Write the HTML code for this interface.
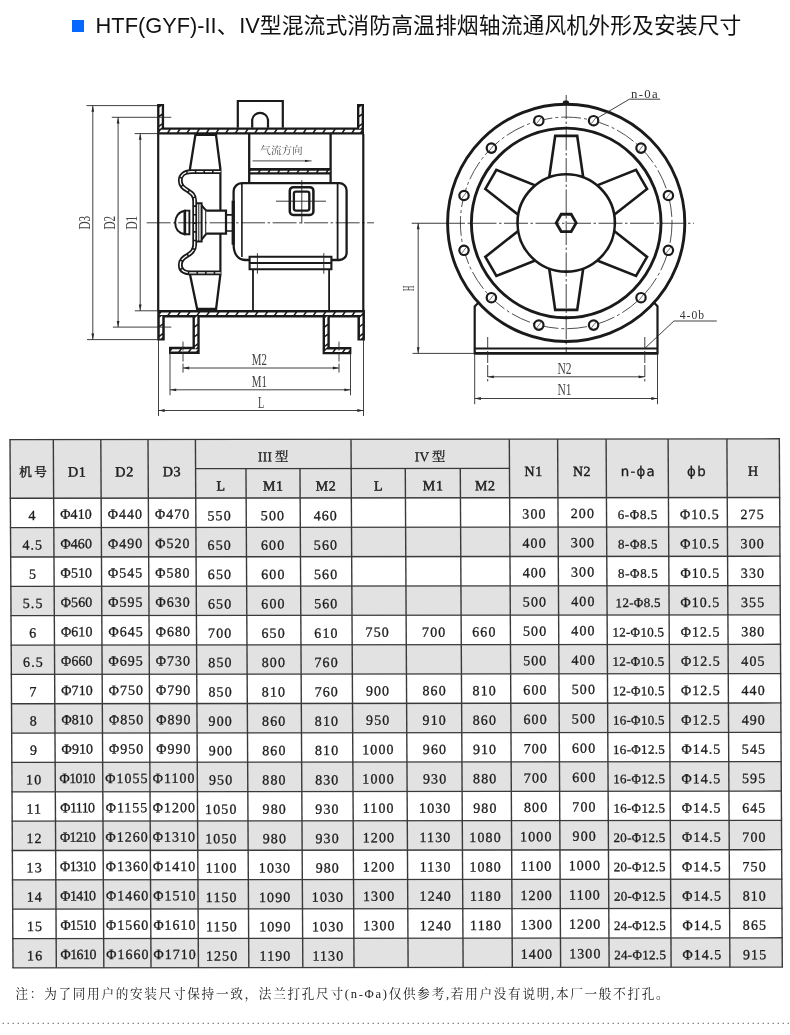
<!DOCTYPE html>
<html lang="zh"><head><meta charset="utf-8"><title>HTF(GYF)</title>
<style>
html,body{margin:0;padding:0;background:#fff;}
body{width:790px;height:1035px;position:relative;overflow:hidden;font-family:"Liberation Sans","Noto Sans CJK SC",sans-serif;}
.sq{position:absolute;left:72px;top:20px;width:12px;height:12px;background:#0568ff;}
.title{position:absolute;left:95.6px;top:11.5px;font-size:21.8px;line-height:28px;color:#111;white-space:nowrap;letter-spacing:0px;}
svg{position:absolute;left:0;top:0;}
.wrap{position:absolute;left:0;top:0;width:790px;height:1035px;will-change:transform;}
.note{position:absolute;left:15.5px;top:984px;font-size:12.6px;line-height:20px;color:#222;white-space:nowrap;letter-spacing:1.72px;font-family:"Liberation Serif","Noto Serif CJK SC",serif;}
.dots{display:none}
</style></head><body>
<div class="wrap">
<div class="sq"></div>
<div class="title">HTF(GYF)-II<span style="letter-spacing:0.7px">、</span>IV<span style="letter-spacing:0.1px">型混流式消防高温排烟轴流通风机外形及安装尺寸</span></div>
<svg width="790" height="1035" viewBox="0 0 790 1035">
<g stroke-linecap="butt"><path d="M160.6,104.1 V130.9 H360.5 V104.1" stroke="#1a1a1a" stroke-width="7.0" fill="none" stroke-linejoin="miter"/><line x1="160.6" y1="106.6" x2="160.6" y2="128.4" stroke="#fff" stroke-width="2.3" stroke-dasharray="7.8 1.9" stroke-dashoffset="0" transform="translate(160.6,0) skewY(-38) translate(-160.6,0)"/><line x1="160.2" y1="131" x2="361" y2="131" stroke="#fff" stroke-width="2.3" stroke-dasharray="7.8 1.9" stroke-dashoffset="0" transform="translate(0,131) skewX(-38) translate(0,-131)"/><line x1="360.5" y1="106.6" x2="360.5" y2="128.4" stroke="#fff" stroke-width="2.3" stroke-dasharray="7.8 1.9" stroke-dashoffset="0" transform="translate(360.5,0) skewY(-38) translate(-360.5,0)"/><path d="M161,340.6 V313.75 H361.2 V340.6" stroke="#1a1a1a" stroke-width="7.5" fill="none" stroke-linejoin="miter"/><line x1="161" y1="316.6" x2="161" y2="338.2" stroke="#fff" stroke-width="2.5" stroke-dasharray="7.8 1.9" stroke-dashoffset="0" transform="translate(161,0) skewY(-38) translate(-161,0)"/><line x1="160.4" y1="313.85" x2="361.8" y2="313.85" stroke="#fff" stroke-width="2.5" stroke-dasharray="7.8 1.9" stroke-dashoffset="0" transform="translate(0,313.85) skewX(-38) translate(0,-313.85)"/><line x1="361.2" y1="316.6" x2="361.2" y2="338.2" stroke="#fff" stroke-width="2.5" stroke-dasharray="7.8 1.9" stroke-dashoffset="0" transform="translate(361.2,0) skewY(-38) translate(-361.2,0)"/><line x1="158.20" y1="134.00" x2="158.20" y2="311.00" stroke="#1a1a1a" stroke-width="2.2" /><line x1="363.30" y1="134.00" x2="363.30" y2="311.00" stroke="#1a1a1a" stroke-width="2.2" /><path d="M237.8,127.8 V101 H282.8 V127.8" stroke="#1a1a1a" stroke-width="2.2" fill="none" /><path d="M252.2,127.8 V119.6 A8,8 0 0 1 268,119.6 V127.8" stroke="#1a1a1a" stroke-width="2.2" fill="none" /><line x1="249.20" y1="134.00" x2="249.20" y2="183.20" stroke="#1a1a1a" stroke-width="2.3" /><line x1="330.60" y1="134.00" x2="330.60" y2="183.20" stroke="#1a1a1a" stroke-width="2.3" /><path d="M249.2,171.2 H330.6" stroke="#1a1a1a" stroke-width="6.6" fill="none" stroke-linejoin="miter"/><line x1="250.5" y1="171.5" x2="330" y2="171.5" stroke="#fff" stroke-width="1.6" stroke-dasharray="7.8 1.9" stroke-dashoffset="0" transform="translate(0,171.5) skewX(-38) translate(0,-171.5)"/><path d="M189.8,170 L195.4,134.8 H216 L220.5,170" stroke="#1a1a1a" stroke-width="2.3" fill="none" /><path d="M189.8,273.4 L197.1,308.8 H216.1 L220.5,273.4" stroke="#1a1a1a" stroke-width="2.3" fill="none" /><line x1="220.40" y1="170.00" x2="220.40" y2="273.50" stroke="#1a1a1a" stroke-width="2.2" /><path d="M220.6,171.7 H191 C184,171.7 180.3,175.5 180.3,180.5 C180.3,191.5 194.7,189 194.7,201 V244.6 C194.7,256.6 180.3,254.2 180.3,265 C180.3,270 184,272.9 191,272.9 H220.6" stroke="#1a1a1a" stroke-width="4.8" fill="none" /><path d="M220.6,171.7 H191 C184,171.7 180.3,175.5 180.3,180.5 C180.3,191.5 194.7,189 194.7,201 V244.6 C194.7,256.6 180.3,254.2 180.3,265 C180.3,270 184,272.9 191,272.9 H220.6" stroke="#fff" stroke-width="1.3" fill="none" stroke-dasharray="7 1.6"/><path d="M196.5,203.2 H201.6 V241.6 H196.5" stroke="#1a1a1a" stroke-width="2" fill="none" /><path d="M201.6,205.5 L206.2,210.6 V234 L201.6,239.5" stroke="#1a1a1a" stroke-width="2" fill="none" /><line x1="198.80" y1="204.00" x2="198.80" y2="241.00" stroke="#1a1a1a" stroke-width="1" /><path d="M184.5,210.8 C178,212 175.2,217.5 175.2,222.6 C175.2,228 178,233 184.5,234.2 Z" stroke="#1a1a1a" stroke-width="2" fill="#fff" /><path d="M185.2,210.6 H189.4 V234.2 H185.2 Z" stroke="#1a1a1a" stroke-width="1.9" fill="#fff" /><path d="M206.2,210.6 H226 V233.6 H206.2" stroke="#1a1a1a" stroke-width="2.2" fill="#fff" /><path d="M226,214.8 H232 M226,231 H232" stroke="#1a1a1a" stroke-width="1.7" fill="none" /><path d="M233.6,191.4 A8.2,8.2 0 0 1 241.8,183.2 H339.4 A7.2,7.2 0 0 1 346.6,190.4 V252.8 A7.2,7.2 0 0 1 339.4,260 H331.4 M233.6,191.4 V244 C233.6,254 238,260 246,260 H249.6" stroke="#1a1a1a" stroke-width="2.3" fill="none" /><line x1="241.90" y1="183.40" x2="241.90" y2="257.00" stroke="#1a1a1a" stroke-width="1.6" /><line x1="337.60" y1="183.40" x2="337.60" y2="260.00" stroke="#1a1a1a" stroke-width="1.8" /><line x1="233.20" y1="200.70" x2="233.20" y2="244.70" stroke="#1a1a1a" stroke-width="3.2" /><path d="M249.6,256.8 H331.4 V269.3 H249.6 Z M249.6,263 H331.4" stroke="#1a1a1a" stroke-width="2.1" fill="none" /><line x1="323.80" y1="253.20" x2="323.80" y2="273.70" stroke="#222" stroke-width="0.9" /><line x1="257.40" y1="253.20" x2="257.40" y2="273.70" stroke="#222" stroke-width="0.9" /><line x1="253.00" y1="269.30" x2="253.00" y2="310.60" stroke="#1a1a1a" stroke-width="1.8" /><line x1="329.10" y1="269.30" x2="329.10" y2="310.60" stroke="#1a1a1a" stroke-width="1.8" /><rect x="289.8" y="187.2" width="23.6" height="27.8" rx="3.5" ry="3.5" fill="none" stroke="#1a1a1a" stroke-width="2.5"/><rect x="293.9" y="191.6" width="15.4" height="19" rx="2" ry="2" fill="none" stroke="#1a1a1a" stroke-width="2.3"/><line x1="276.00" y1="201.20" x2="326.00" y2="201.20" stroke="#222" stroke-width="0.9" /><line x1="301.80" y1="180.20" x2="301.80" y2="223.50" stroke="#222" stroke-width="0.9" /><line x1="146.60" y1="222.80" x2="374.00" y2="222.80" stroke="#111" stroke-width="0.8" stroke-dasharray="24 2.5 2.5 2.5"/><line x1="252.50" y1="160.90" x2="311.60" y2="160.90" stroke="#333" stroke-width="0.9" /><polygon points="310.00,160.90 305.00,162.10 305.00,159.70" fill="#222"/><text x="281.5" y="154.3" font-size="10.6" fill="#555" text-anchor="middle" font-family="'Liberation Serif','Noto Serif CJK SC',serif">气流方向</text><path d="M196.1,317 V350.3 H169" stroke="#1a1a1a" stroke-width="7.2" fill="none" stroke-linejoin="miter"/><line x1="196.1" y1="317" x2="196.1" y2="348" stroke="#fff" stroke-width="2.4" stroke-dasharray="7.8 1.9" stroke-dashoffset="0" transform="translate(196.1,0) skewY(-38) translate(-196.1,0)"/><line x1="171.4" y1="350.4" x2="197" y2="350.4" stroke="#fff" stroke-width="2.4" stroke-dasharray="7.8 1.9" stroke-dashoffset="0" transform="translate(0,350.4) skewX(-38) translate(0,-350.4)"/><path d="M326.2,317 V350.6 H351.4" stroke="#1a1a1a" stroke-width="7.2" fill="none" stroke-linejoin="miter"/><line x1="326.2" y1="317" x2="326.2" y2="348" stroke="#fff" stroke-width="2.4" stroke-dasharray="7.8 1.9" stroke-dashoffset="0" transform="translate(326.2,0) skewY(-38) translate(-326.2,0)"/><line x1="325.4" y1="350.7" x2="349" y2="350.7" stroke="#fff" stroke-width="2.4" stroke-dasharray="7.8 1.9" stroke-dashoffset="0" transform="translate(0,350.7) skewX(-38) translate(0,-350.7)"/><line x1="86.50" y1="105.60" x2="158.00" y2="105.60" stroke="#2a2a2a" stroke-width="0.9" /><line x1="87.00" y1="339.60" x2="158.00" y2="339.60" stroke="#2a2a2a" stroke-width="0.9" /><line x1="92.80" y1="105.60" x2="92.80" y2="339.60" stroke="#2a2a2a" stroke-width="0.9" /><polygon points="92.80,105.80 94.20,111.80 91.40,111.80" fill="#2a2a2a"/><polygon points="92.80,339.40 91.40,333.40 94.20,333.40" fill="#2a2a2a"/><line x1="111.80" y1="117.30" x2="171.30" y2="117.30" stroke="#2a2a2a" stroke-width="0.9" /><line x1="112.90" y1="327.10" x2="171.30" y2="327.10" stroke="#2a2a2a" stroke-width="0.9" /><line x1="118.10" y1="117.30" x2="118.10" y2="327.10" stroke="#2a2a2a" stroke-width="0.9" /><polygon points="118.10,117.50 119.50,123.50 116.70,123.50" fill="#2a2a2a"/><polygon points="118.10,326.90 116.70,320.90 119.50,320.90" fill="#2a2a2a"/><line x1="134.60" y1="133.60" x2="158.00" y2="133.60" stroke="#2a2a2a" stroke-width="0.9" /><line x1="134.80" y1="310.80" x2="158.00" y2="310.80" stroke="#2a2a2a" stroke-width="0.9" /><line x1="140.20" y1="133.60" x2="140.20" y2="310.80" stroke="#2a2a2a" stroke-width="0.9" /><polygon points="140.20,133.80 141.60,139.80 138.80,139.80" fill="#2a2a2a"/><polygon points="140.20,310.60 138.80,304.60 141.60,304.60" fill="#2a2a2a"/><text transform="translate(90.00,222.70) rotate(-90) scale(0.66,1)" font-size="17" fill="#444" text-anchor="middle" font-weight="normal" letter-spacing="0" font-family="'Liberation Serif','Noto Serif CJK SC',serif">D3</text><text transform="translate(115.30,222.70) rotate(-90) scale(0.66,1)" font-size="17" fill="#444" text-anchor="middle" font-weight="normal" letter-spacing="0" font-family="'Liberation Serif','Noto Serif CJK SC',serif">D2</text><text transform="translate(137.20,222.70) rotate(-90) scale(0.66,1)" font-size="17" fill="#444" text-anchor="middle" font-weight="normal" letter-spacing="0" font-family="'Liberation Serif','Noto Serif CJK SC',serif">D1</text><line x1="183.00" y1="341.60" x2="183.00" y2="373.00" stroke="#2a2a2a" stroke-width="0.9" stroke-dasharray="9 2"/><line x1="339.00" y1="341.60" x2="339.00" y2="373.00" stroke="#2a2a2a" stroke-width="0.9" stroke-dasharray="9 2"/><line x1="183.00" y1="368.00" x2="339.00" y2="368.00" stroke="#2a2a2a" stroke-width="0.9" /><polygon points="183.20,368.00 189.20,366.60 189.20,369.40" fill="#2a2a2a"/><polygon points="338.80,368.00 332.80,369.40 332.80,366.60" fill="#2a2a2a"/><line x1="170.00" y1="353.00" x2="170.00" y2="395.30" stroke="#2a2a2a" stroke-width="0.9" /><line x1="350.50" y1="353.00" x2="350.50" y2="395.30" stroke="#2a2a2a" stroke-width="0.9" /><line x1="170.00" y1="389.80" x2="350.50" y2="389.80" stroke="#2a2a2a" stroke-width="0.9" /><polygon points="170.20,389.80 176.20,388.40 176.20,391.20" fill="#2a2a2a"/><polygon points="350.30,389.80 344.30,391.20 344.30,388.40" fill="#2a2a2a"/><line x1="158.50" y1="339.60" x2="158.50" y2="416.00" stroke="#2a2a2a" stroke-width="0.9" /><line x1="363.50" y1="339.60" x2="363.50" y2="416.00" stroke="#2a2a2a" stroke-width="0.9" /><line x1="158.50" y1="410.50" x2="363.50" y2="410.50" stroke="#2a2a2a" stroke-width="0.9" /><polygon points="158.70,410.50 164.70,409.10 164.70,411.90" fill="#2a2a2a"/><polygon points="363.30,410.50 357.30,411.90 357.30,409.10" fill="#2a2a2a"/><text transform="translate(259.40,365.00) scale(0.66,1)" font-size="16.5" fill="#444" text-anchor="middle" font-weight="normal" letter-spacing="0" font-family="'Liberation Serif','Noto Serif CJK SC',serif">M2</text><text transform="translate(259.40,387.00) scale(0.66,1)" font-size="16.5" fill="#444" text-anchor="middle" font-weight="normal" letter-spacing="0" font-family="'Liberation Serif','Noto Serif CJK SC',serif">M1</text><text transform="translate(261.00,408.00) scale(0.62,1)" font-size="16.5" fill="#444" text-anchor="middle" font-weight="normal" letter-spacing="0" font-family="'Liberation Serif','Noto Serif CJK SC',serif">L</text><circle cx="566.2" cy="222.9" r="118.6" fill="none" stroke="#1a1a1a" stroke-width="2.9"/><circle cx="566.2" cy="222.9" r="94.8" fill="none" stroke="#1a1a1a" stroke-width="2.9"/><circle cx="566.2" cy="222.9" r="105.8" fill="none" stroke="#222" stroke-width="0.8" stroke-dasharray="20 3 3 3"/><circle cx="593.58" cy="120.71" r="4.7" fill="#fff" stroke="#1a1a1a" stroke-width="2.2"/><line x1="591.08" y1="123.91" x2="596.08" y2="117.51" stroke="#333" stroke-width="0.7" /><circle cx="641.01" cy="148.09" r="4.7" fill="#fff" stroke="#1a1a1a" stroke-width="2.2"/><line x1="638.51" y1="151.29" x2="643.51" y2="144.89" stroke="#333" stroke-width="0.7" /><circle cx="668.39" cy="195.52" r="4.7" fill="#fff" stroke="#1a1a1a" stroke-width="2.2"/><line x1="665.89" y1="198.72" x2="670.89" y2="192.32" stroke="#333" stroke-width="0.7" /><circle cx="668.39" cy="250.28" r="4.7" fill="#fff" stroke="#1a1a1a" stroke-width="2.2"/><line x1="665.89" y1="253.48" x2="670.89" y2="247.08" stroke="#333" stroke-width="0.7" /><circle cx="641.01" cy="297.71" r="4.7" fill="#fff" stroke="#1a1a1a" stroke-width="2.2"/><line x1="638.51" y1="300.91" x2="643.51" y2="294.51" stroke="#333" stroke-width="0.7" /><circle cx="593.58" cy="325.09" r="4.7" fill="#fff" stroke="#1a1a1a" stroke-width="2.2"/><line x1="591.08" y1="328.29" x2="596.08" y2="321.89" stroke="#333" stroke-width="0.7" /><circle cx="538.82" cy="325.09" r="4.7" fill="#fff" stroke="#1a1a1a" stroke-width="2.2"/><line x1="536.32" y1="328.29" x2="541.32" y2="321.89" stroke="#333" stroke-width="0.7" /><circle cx="491.39" cy="297.71" r="4.7" fill="#fff" stroke="#1a1a1a" stroke-width="2.2"/><line x1="488.89" y1="300.91" x2="493.89" y2="294.51" stroke="#333" stroke-width="0.7" /><circle cx="464.01" cy="250.28" r="4.7" fill="#fff" stroke="#1a1a1a" stroke-width="2.2"/><line x1="461.51" y1="253.48" x2="466.51" y2="247.08" stroke="#333" stroke-width="0.7" /><circle cx="464.01" cy="195.52" r="4.7" fill="#fff" stroke="#1a1a1a" stroke-width="2.2"/><line x1="461.51" y1="198.72" x2="466.51" y2="192.32" stroke="#333" stroke-width="0.7" /><circle cx="491.39" cy="148.09" r="4.7" fill="#fff" stroke="#1a1a1a" stroke-width="2.2"/><line x1="488.89" y1="151.29" x2="493.89" y2="144.89" stroke="#333" stroke-width="0.7" /><circle cx="538.82" cy="120.71" r="4.7" fill="#fff" stroke="#1a1a1a" stroke-width="2.2"/><line x1="536.32" y1="123.91" x2="541.32" y2="117.51" stroke="#333" stroke-width="0.7" /><path d="M549.20,177.30 L555.20,135.90 H577.20 L583.20,177.30" transform="rotate(0 566.2 222.9)" fill="none" stroke="#1a1a1a" stroke-width="2.6" stroke-linejoin="miter"/><path d="M549.20,177.30 L555.20,135.90 H577.20 L583.20,177.30" transform="rotate(60 566.2 222.9)" fill="none" stroke="#1a1a1a" stroke-width="2.6" stroke-linejoin="miter"/><path d="M549.20,177.30 L555.20,135.90 H577.20 L583.20,177.30" transform="rotate(120 566.2 222.9)" fill="none" stroke="#1a1a1a" stroke-width="2.6" stroke-linejoin="miter"/><path d="M549.20,177.30 L555.20,135.90 H577.20 L583.20,177.30" transform="rotate(180 566.2 222.9)" fill="none" stroke="#1a1a1a" stroke-width="2.6" stroke-linejoin="miter"/><path d="M549.20,177.30 L555.20,135.90 H577.20 L583.20,177.30" transform="rotate(240 566.2 222.9)" fill="none" stroke="#1a1a1a" stroke-width="2.6" stroke-linejoin="miter"/><path d="M549.20,177.30 L555.20,135.90 H577.20 L583.20,177.30" transform="rotate(300 566.2 222.9)" fill="none" stroke="#1a1a1a" stroke-width="2.6" stroke-linejoin="miter"/><circle cx="566.2" cy="222.9" r="48.7" fill="none" stroke="#1a1a1a" stroke-width="2.6"/><polygon points="576.20,222.90 571.20,231.56 561.20,231.56 556.20,222.90 561.20,214.24 571.20,214.24" fill="none" stroke="#1a1a1a" stroke-width="2.8"/><line x1="441.00" y1="223.25" x2="694.00" y2="223.25" stroke="#111" stroke-width="0.8" stroke-dasharray="24 2.5 2.5 2.5"/><line x1="411.70" y1="223.25" x2="441.00" y2="223.25" stroke="#222" stroke-width="0.9" /><line x1="566.20" y1="95.00" x2="566.20" y2="352.00" stroke="#111" stroke-width="0.8" stroke-dasharray="24 2.5 2.5 2.5"/><rect x="562.8" y="100.4" width="6.2" height="4.4" rx="2" fill="#1a1a1a"/><path d="M477.9,303.2 L474.7,306.4 V353.4 H657.5 V306.2 L653.6,302.2" stroke="#1a1a1a" stroke-width="2.2" fill="none" /><line x1="474.70" y1="348.60" x2="657.50" y2="348.60" stroke="#1a1a1a" stroke-width="2" /><line x1="474.70" y1="353.20" x2="657.50" y2="353.20" stroke="#1a1a1a" stroke-width="2.4" /><line x1="412.50" y1="353.40" x2="474.70" y2="353.40" stroke="#2a2a2a" stroke-width="0.9" /><line x1="418.20" y1="223.10" x2="418.20" y2="353.40" stroke="#2a2a2a" stroke-width="0.9" /><polygon points="418.20,223.30 419.60,229.30 416.80,229.30" fill="#2a2a2a"/><polygon points="418.20,353.20 416.80,347.20 419.60,347.20" fill="#2a2a2a"/><text transform="translate(414.40,288.40) rotate(-90) scale(0.45,1)" font-size="16.5" fill="#444" text-anchor="middle" font-weight="normal" letter-spacing="0" font-family="'Liberation Serif','Noto Serif CJK SC',serif">H</text><line x1="487.70" y1="337.00" x2="487.70" y2="381.40" stroke="#2a2a2a" stroke-width="0.9" stroke-dasharray="12 2"/><line x1="644.80" y1="337.00" x2="644.80" y2="381.40" stroke="#2a2a2a" stroke-width="0.9" stroke-dasharray="12 2"/><line x1="487.70" y1="376.80" x2="644.80" y2="376.80" stroke="#2a2a2a" stroke-width="0.9" /><polygon points="487.90,376.80 493.90,375.40 493.90,378.20" fill="#2a2a2a"/><polygon points="644.60,376.80 638.60,378.20 638.60,375.40" fill="#2a2a2a"/><line x1="474.70" y1="353.40" x2="474.70" y2="404.20" stroke="#2a2a2a" stroke-width="0.9" /><line x1="657.50" y1="353.40" x2="657.50" y2="404.20" stroke="#2a2a2a" stroke-width="0.9" /><line x1="474.70" y1="398.50" x2="657.50" y2="398.50" stroke="#2a2a2a" stroke-width="0.9" /><polygon points="474.90,398.50 480.90,397.10 480.90,399.90" fill="#2a2a2a"/><polygon points="657.30,398.50 651.30,399.90 651.30,397.10" fill="#2a2a2a"/><text transform="translate(564.50,373.60) scale(0.72,1)" font-size="16" fill="#444" text-anchor="middle" font-weight="normal" letter-spacing="0" font-family="'Liberation Serif','Noto Serif CJK SC',serif">N2</text><text transform="translate(564.50,395.00) scale(0.72,1)" font-size="16" fill="#444" text-anchor="middle" font-weight="normal" letter-spacing="0" font-family="'Liberation Serif','Noto Serif CJK SC',serif">N1</text><path d="M644.8,348.4 L673.9,321 H716.8" stroke="#2a2a2a" stroke-width="0.9" fill="none" /><text transform="translate(692.40,319.30) scale(1.0,1)" font-size="11.6" fill="#333" text-anchor="middle" font-weight="normal" letter-spacing="1.0" font-family="'Liberation Serif','Noto Serif CJK SC',serif">4-0b</text><path d="M597.2,118.2 L629.4,99.2 H660.2" stroke="#2a2a2a" stroke-width="0.9" fill="none" /><text transform="translate(645.00,98.30) scale(1.1,1)" font-size="11.6" fill="#333" text-anchor="middle" font-weight="normal" letter-spacing="1.2" font-family="'Liberation Serif','Noto Serif CJK SC',serif">n-0a</text></g>
<line x1="2.6" y1="1023.45" x2="790" y2="1023.45" stroke="#777" stroke-width="1.3" stroke-dasharray="1.3 3.7"/>
<g transform="matrix(1,-0.0010,0.0057,1,-2.5,0.0)"><rect x="10" y="439.6" width="769.3" height="58.69999999999999" fill="#e2e2e2"/><rect x="10" y="527.65" width="769.3" height="29.35" fill="#e2e2e2"/><rect x="10" y="586.35" width="769.3" height="29.35" fill="#e2e2e2"/><rect x="10" y="645.05" width="769.3" height="29.35" fill="#e2e2e2"/><rect x="10" y="703.75" width="769.3" height="29.35" fill="#e2e2e2"/><rect x="10" y="762.45" width="769.3" height="29.35" fill="#e2e2e2"/><rect x="10" y="821.15" width="769.3" height="29.35" fill="#e2e2e2"/><rect x="10" y="879.85" width="769.3" height="29.35" fill="#e2e2e2"/><rect x="10" y="938.55" width="769.3" height="29.35" fill="#e2e2e2"/><line x1="9.30" y1="439.60" x2="780.00" y2="439.60" stroke="#3a3a3a" stroke-width="1.4" /><line x1="195.40" y1="468.90" x2="509.30" y2="468.90" stroke="#3a3a3a" stroke-width="1.3" /><line x1="9.30" y1="498.30" x2="780.00" y2="498.30" stroke="#3a3a3a" stroke-width="1.4" /><line x1="9.30" y1="527.65" x2="780.00" y2="527.65" stroke="#3a3a3a" stroke-width="1.3" /><line x1="9.30" y1="557.00" x2="780.00" y2="557.00" stroke="#3a3a3a" stroke-width="1.3" /><line x1="9.30" y1="586.35" x2="780.00" y2="586.35" stroke="#3a3a3a" stroke-width="1.3" /><line x1="9.30" y1="615.70" x2="780.00" y2="615.70" stroke="#3a3a3a" stroke-width="1.3" /><line x1="9.30" y1="645.05" x2="780.00" y2="645.05" stroke="#3a3a3a" stroke-width="1.3" /><line x1="9.30" y1="674.40" x2="780.00" y2="674.40" stroke="#3a3a3a" stroke-width="1.3" /><line x1="9.30" y1="703.75" x2="780.00" y2="703.75" stroke="#3a3a3a" stroke-width="1.3" /><line x1="9.30" y1="733.10" x2="780.00" y2="733.10" stroke="#3a3a3a" stroke-width="1.3" /><line x1="9.30" y1="762.45" x2="780.00" y2="762.45" stroke="#3a3a3a" stroke-width="1.3" /><line x1="9.30" y1="791.80" x2="780.00" y2="791.80" stroke="#3a3a3a" stroke-width="1.3" /><line x1="9.30" y1="821.15" x2="780.00" y2="821.15" stroke="#3a3a3a" stroke-width="1.3" /><line x1="9.30" y1="850.50" x2="780.00" y2="850.50" stroke="#3a3a3a" stroke-width="1.3" /><line x1="9.30" y1="879.85" x2="780.00" y2="879.85" stroke="#3a3a3a" stroke-width="1.3" /><line x1="9.30" y1="909.20" x2="780.00" y2="909.20" stroke="#3a3a3a" stroke-width="1.3" /><line x1="9.30" y1="938.55" x2="780.00" y2="938.55" stroke="#3a3a3a" stroke-width="1.3" /><line x1="9.30" y1="967.90" x2="780.00" y2="967.90" stroke="#3a3a3a" stroke-width="1.4" /><line x1="10.00" y1="439.60" x2="10.00" y2="967.90" stroke="#3a3a3a" stroke-width="1.4" /><line x1="53.30" y1="439.60" x2="53.30" y2="967.90" stroke="#3a3a3a" stroke-width="1.4" /><line x1="100.80" y1="439.60" x2="100.80" y2="967.90" stroke="#3a3a3a" stroke-width="1.4" /><line x1="148.00" y1="439.60" x2="148.00" y2="967.90" stroke="#3a3a3a" stroke-width="1.4" /><line x1="195.40" y1="439.60" x2="195.40" y2="967.90" stroke="#3a3a3a" stroke-width="1.4" /><line x1="245.80" y1="468.90" x2="245.80" y2="967.90" stroke="#3a3a3a" stroke-width="1.4" /><line x1="299.80" y1="468.90" x2="299.80" y2="967.90" stroke="#3a3a3a" stroke-width="1.4" /><line x1="351.00" y1="439.60" x2="351.00" y2="967.90" stroke="#3a3a3a" stroke-width="1.4" /><line x1="405.10" y1="468.90" x2="405.10" y2="967.90" stroke="#3a3a3a" stroke-width="1.4" /><line x1="460.10" y1="468.90" x2="460.10" y2="967.90" stroke="#3a3a3a" stroke-width="1.4" /><line x1="509.30" y1="439.60" x2="509.30" y2="967.90" stroke="#3a3a3a" stroke-width="1.4" /><line x1="557.60" y1="439.60" x2="557.60" y2="967.90" stroke="#3a3a3a" stroke-width="1.4" /><line x1="606.10" y1="439.60" x2="606.10" y2="967.90" stroke="#3a3a3a" stroke-width="1.4" /><line x1="668.10" y1="439.60" x2="668.10" y2="967.90" stroke="#3a3a3a" stroke-width="1.4" /><line x1="726.90" y1="439.60" x2="726.90" y2="967.90" stroke="#3a3a3a" stroke-width="1.4" /><line x1="779.30" y1="439.60" x2="779.30" y2="967.90" stroke="#3a3a3a" stroke-width="1.4" /><text x="32.85" y="476.60" font-size="12.6" font-weight="normal" stroke="#1c1c1c" stroke-width="0.45" fill="#1c1c1c" text-anchor="middle" letter-spacing="0" font-family="'Liberation Serif','Noto Serif CJK SC',serif">机<tspan dx="2.2">号</tspan></text><text x="77.05" y="476.50" font-size="14.2" font-weight="normal" stroke="#1c1c1c" stroke-width="0.45" fill="#1c1c1c" text-anchor="middle" letter-spacing="0.6" font-family="'Liberation Serif','Noto Serif CJK SC',serif">D1</text><text x="124.40" y="476.50" font-size="14.2" font-weight="normal" stroke="#1c1c1c" stroke-width="0.45" fill="#1c1c1c" text-anchor="middle" letter-spacing="0.6" font-family="'Liberation Serif','Noto Serif CJK SC',serif">D2</text><text x="171.70" y="476.50" font-size="14.2" font-weight="normal" stroke="#1c1c1c" stroke-width="0.45" fill="#1c1c1c" text-anchor="middle" letter-spacing="0.6" font-family="'Liberation Serif','Noto Serif CJK SC',serif">D3</text><text x="273.20" y="461.60" font-size="13.4" font-weight="normal" stroke="#1c1c1c" stroke-width="0.3" fill="#1c1c1c" text-anchor="middle" letter-spacing="0.4" font-family="'Liberation Serif','Noto Serif CJK SC',serif">III<tspan dx="2.5">型</tspan></text><text x="430.15" y="461.60" font-size="13.4" font-weight="normal" stroke="#1c1c1c" stroke-width="0.3" fill="#1c1c1c" text-anchor="middle" letter-spacing="0.4" font-family="'Liberation Serif','Noto Serif CJK SC',serif">IV<tspan dx="2.5">型</tspan></text><text x="220.90" y="490.80" font-size="14" font-weight="normal" stroke="#1c1c1c" stroke-width="0.45" fill="#1c1c1c" text-anchor="middle" letter-spacing="0.6" font-family="'Liberation Serif','Noto Serif CJK SC',serif">L</text><text x="273.10" y="490.80" font-size="14" font-weight="normal" stroke="#1c1c1c" stroke-width="0.45" fill="#1c1c1c" text-anchor="middle" letter-spacing="0.6" font-family="'Liberation Serif','Noto Serif CJK SC',serif">M1</text><text x="325.70" y="490.80" font-size="14" font-weight="normal" stroke="#1c1c1c" stroke-width="0.45" fill="#1c1c1c" text-anchor="middle" letter-spacing="0.6" font-family="'Liberation Serif','Noto Serif CJK SC',serif">M2</text><text x="378.35" y="490.80" font-size="14" font-weight="normal" stroke="#1c1c1c" stroke-width="0.45" fill="#1c1c1c" text-anchor="middle" letter-spacing="0.6" font-family="'Liberation Serif','Noto Serif CJK SC',serif">L</text><text x="432.90" y="490.80" font-size="14" font-weight="normal" stroke="#1c1c1c" stroke-width="0.45" fill="#1c1c1c" text-anchor="middle" letter-spacing="0.6" font-family="'Liberation Serif','Noto Serif CJK SC',serif">M1</text><text x="485.00" y="490.80" font-size="14" font-weight="normal" stroke="#1c1c1c" stroke-width="0.45" fill="#1c1c1c" text-anchor="middle" letter-spacing="0.6" font-family="'Liberation Serif','Noto Serif CJK SC',serif">M2</text><text x="533.45" y="476.60" font-size="14" font-weight="normal" stroke="#1c1c1c" stroke-width="0.45" fill="#1c1c1c" text-anchor="middle" letter-spacing="0.6" font-family="'Liberation Serif','Noto Serif CJK SC',serif">N1</text><text x="581.85" y="476.60" font-size="14" font-weight="normal" stroke="#1c1c1c" stroke-width="0.45" fill="#1c1c1c" text-anchor="middle" letter-spacing="0.6" font-family="'Liberation Serif','Noto Serif CJK SC',serif">N2</text><text x="638.10" y="476.60" font-size="13.4" font-weight="normal" stroke="#1c1c1c" stroke-width="0.3" fill="#1c1c1c" text-anchor="middle" letter-spacing="1.2" font-family="'DejaVu Sans','Liberation Sans',sans-serif">n-ϕa</text><text x="697.00" y="476.60" font-size="13.4" font-weight="normal" stroke="#1c1c1c" stroke-width="0.3" fill="#1c1c1c" text-anchor="middle" letter-spacing="1.6" font-family="'DejaVu Sans','Liberation Sans',sans-serif">ϕb</text><text x="753.10" y="476.60" font-size="14" font-weight="normal" stroke="#1c1c1c" stroke-width="0.45" fill="#1c1c1c" text-anchor="middle" letter-spacing="0.3" font-family="'Liberation Serif','Noto Serif CJK SC',serif">H</text><text x="32.20" y="520.10" font-size="14" font-weight="normal" stroke="#1c1c1c" stroke-width="0.3" fill="#1c1c1c" text-anchor="middle" letter-spacing="1.1" font-family="'Liberation Serif','Noto Serif CJK SC',serif">4</text><text x="75.60" y="518.90" font-size="14" font-weight="normal" stroke="#1c1c1c" stroke-width="0.3" fill="#1c1c1c" text-anchor="middle" letter-spacing="0.1" font-family="'Liberation Serif','Noto Serif CJK SC',serif">Φ410</text><text x="124.90" y="518.90" font-size="14" font-weight="normal" stroke="#1c1c1c" stroke-width="0.3" fill="#1c1c1c" text-anchor="middle" letter-spacing="1.0" font-family="'Liberation Serif','Noto Serif CJK SC',serif">Φ440</text><text x="172.20" y="518.90" font-size="14" font-weight="normal" stroke="#1c1c1c" stroke-width="0.3" fill="#1c1c1c" text-anchor="middle" letter-spacing="1.0" font-family="'Liberation Serif','Noto Serif CJK SC',serif">Φ470</text><text x="219.15" y="520.60" font-size="14" font-weight="normal" stroke="#1c1c1c" stroke-width="0.3" fill="#1c1c1c" text-anchor="middle" letter-spacing="1.1" font-family="'Liberation Serif','Noto Serif CJK SC',serif">550</text><text x="272.55" y="520.60" font-size="14" font-weight="normal" stroke="#1c1c1c" stroke-width="0.3" fill="#1c1c1c" text-anchor="middle" letter-spacing="1.1" font-family="'Liberation Serif','Noto Serif CJK SC',serif">500</text><text x="325.35" y="520.60" font-size="14" font-weight="normal" stroke="#1c1c1c" stroke-width="0.3" fill="#1c1c1c" text-anchor="middle" letter-spacing="1.1" font-family="'Liberation Serif','Noto Serif CJK SC',serif">460</text><text x="534.00" y="519.00" font-size="14" font-weight="normal" stroke="#1c1c1c" stroke-width="0.3" fill="#1c1c1c" text-anchor="middle" letter-spacing="1.1" font-family="'Liberation Serif','Noto Serif CJK SC',serif">300</text><text x="582.40" y="518.50" font-size="14" font-weight="normal" stroke="#1c1c1c" stroke-width="0.3" fill="#1c1c1c" text-anchor="middle" letter-spacing="1.1" font-family="'Liberation Serif','Noto Serif CJK SC',serif">200</text><text x="637.40" y="519.70" font-size="13" font-weight="normal" stroke="#1c1c1c" stroke-width="0.3" fill="#1c1c1c" text-anchor="middle" letter-spacing="0.6" font-family="'Liberation Serif','Noto Serif CJK SC',serif">6-Φ8.5</text><text x="699.50" y="519.70" font-size="14" font-weight="normal" stroke="#1c1c1c" stroke-width="0.3" fill="#1c1c1c" text-anchor="middle" letter-spacing="1.0" font-family="'Liberation Serif','Noto Serif CJK SC',serif">Φ10.5</text><text x="752.15" y="519.70" font-size="14" font-weight="normal" stroke="#1c1c1c" stroke-width="0.3" fill="#1c1c1c" text-anchor="middle" letter-spacing="1.1" font-family="'Liberation Serif','Noto Serif CJK SC',serif">275</text><text x="32.20" y="549.45" font-size="14" font-weight="normal" stroke="#1c1c1c" stroke-width="0.3" fill="#1c1c1c" text-anchor="middle" letter-spacing="1.1" font-family="'Liberation Serif','Noto Serif CJK SC',serif">4.5</text><text x="75.60" y="548.25" font-size="14" font-weight="normal" stroke="#1c1c1c" stroke-width="0.3" fill="#1c1c1c" text-anchor="middle" letter-spacing="0.1" font-family="'Liberation Serif','Noto Serif CJK SC',serif">Φ460</text><text x="124.90" y="548.25" font-size="14" font-weight="normal" stroke="#1c1c1c" stroke-width="0.3" fill="#1c1c1c" text-anchor="middle" letter-spacing="1.0" font-family="'Liberation Serif','Noto Serif CJK SC',serif">Φ490</text><text x="172.20" y="548.25" font-size="14" font-weight="normal" stroke="#1c1c1c" stroke-width="0.3" fill="#1c1c1c" text-anchor="middle" letter-spacing="1.0" font-family="'Liberation Serif','Noto Serif CJK SC',serif">Φ520</text><text x="219.15" y="549.95" font-size="14" font-weight="normal" stroke="#1c1c1c" stroke-width="0.3" fill="#1c1c1c" text-anchor="middle" letter-spacing="1.1" font-family="'Liberation Serif','Noto Serif CJK SC',serif">650</text><text x="272.55" y="549.95" font-size="14" font-weight="normal" stroke="#1c1c1c" stroke-width="0.3" fill="#1c1c1c" text-anchor="middle" letter-spacing="1.1" font-family="'Liberation Serif','Noto Serif CJK SC',serif">600</text><text x="325.35" y="549.95" font-size="14" font-weight="normal" stroke="#1c1c1c" stroke-width="0.3" fill="#1c1c1c" text-anchor="middle" letter-spacing="1.1" font-family="'Liberation Serif','Noto Serif CJK SC',serif">560</text><text x="534.00" y="548.35" font-size="14" font-weight="normal" stroke="#1c1c1c" stroke-width="0.3" fill="#1c1c1c" text-anchor="middle" letter-spacing="1.1" font-family="'Liberation Serif','Noto Serif CJK SC',serif">400</text><text x="582.40" y="547.85" font-size="14" font-weight="normal" stroke="#1c1c1c" stroke-width="0.3" fill="#1c1c1c" text-anchor="middle" letter-spacing="1.1" font-family="'Liberation Serif','Noto Serif CJK SC',serif">300</text><text x="637.40" y="549.05" font-size="13" font-weight="normal" stroke="#1c1c1c" stroke-width="0.3" fill="#1c1c1c" text-anchor="middle" letter-spacing="0.6" font-family="'Liberation Serif','Noto Serif CJK SC',serif">8-Φ8.5</text><text x="699.50" y="549.05" font-size="14" font-weight="normal" stroke="#1c1c1c" stroke-width="0.3" fill="#1c1c1c" text-anchor="middle" letter-spacing="1.0" font-family="'Liberation Serif','Noto Serif CJK SC',serif">Φ10.5</text><text x="752.15" y="549.05" font-size="14" font-weight="normal" stroke="#1c1c1c" stroke-width="0.3" fill="#1c1c1c" text-anchor="middle" letter-spacing="1.1" font-family="'Liberation Serif','Noto Serif CJK SC',serif">300</text><text x="32.20" y="578.80" font-size="14" font-weight="normal" stroke="#1c1c1c" stroke-width="0.3" fill="#1c1c1c" text-anchor="middle" letter-spacing="1.1" font-family="'Liberation Serif','Noto Serif CJK SC',serif">5</text><text x="75.60" y="577.60" font-size="14" font-weight="normal" stroke="#1c1c1c" stroke-width="0.3" fill="#1c1c1c" text-anchor="middle" letter-spacing="0.1" font-family="'Liberation Serif','Noto Serif CJK SC',serif">Φ510</text><text x="124.90" y="577.60" font-size="14" font-weight="normal" stroke="#1c1c1c" stroke-width="0.3" fill="#1c1c1c" text-anchor="middle" letter-spacing="1.0" font-family="'Liberation Serif','Noto Serif CJK SC',serif">Φ545</text><text x="172.20" y="577.60" font-size="14" font-weight="normal" stroke="#1c1c1c" stroke-width="0.3" fill="#1c1c1c" text-anchor="middle" letter-spacing="1.0" font-family="'Liberation Serif','Noto Serif CJK SC',serif">Φ580</text><text x="219.15" y="579.30" font-size="14" font-weight="normal" stroke="#1c1c1c" stroke-width="0.3" fill="#1c1c1c" text-anchor="middle" letter-spacing="1.1" font-family="'Liberation Serif','Noto Serif CJK SC',serif">650</text><text x="272.55" y="579.30" font-size="14" font-weight="normal" stroke="#1c1c1c" stroke-width="0.3" fill="#1c1c1c" text-anchor="middle" letter-spacing="1.1" font-family="'Liberation Serif','Noto Serif CJK SC',serif">600</text><text x="325.35" y="579.30" font-size="14" font-weight="normal" stroke="#1c1c1c" stroke-width="0.3" fill="#1c1c1c" text-anchor="middle" letter-spacing="1.1" font-family="'Liberation Serif','Noto Serif CJK SC',serif">560</text><text x="534.00" y="577.70" font-size="14" font-weight="normal" stroke="#1c1c1c" stroke-width="0.3" fill="#1c1c1c" text-anchor="middle" letter-spacing="1.1" font-family="'Liberation Serif','Noto Serif CJK SC',serif">400</text><text x="582.40" y="577.20" font-size="14" font-weight="normal" stroke="#1c1c1c" stroke-width="0.3" fill="#1c1c1c" text-anchor="middle" letter-spacing="1.1" font-family="'Liberation Serif','Noto Serif CJK SC',serif">300</text><text x="637.40" y="578.40" font-size="13" font-weight="normal" stroke="#1c1c1c" stroke-width="0.3" fill="#1c1c1c" text-anchor="middle" letter-spacing="0.6" font-family="'Liberation Serif','Noto Serif CJK SC',serif">8-Φ8.5</text><text x="699.50" y="578.40" font-size="14" font-weight="normal" stroke="#1c1c1c" stroke-width="0.3" fill="#1c1c1c" text-anchor="middle" letter-spacing="1.0" font-family="'Liberation Serif','Noto Serif CJK SC',serif">Φ10.5</text><text x="752.15" y="578.40" font-size="14" font-weight="normal" stroke="#1c1c1c" stroke-width="0.3" fill="#1c1c1c" text-anchor="middle" letter-spacing="1.1" font-family="'Liberation Serif','Noto Serif CJK SC',serif">330</text><text x="32.20" y="608.15" font-size="14" font-weight="normal" stroke="#1c1c1c" stroke-width="0.3" fill="#1c1c1c" text-anchor="middle" letter-spacing="1.1" font-family="'Liberation Serif','Noto Serif CJK SC',serif">5.5</text><text x="75.60" y="606.95" font-size="14" font-weight="normal" stroke="#1c1c1c" stroke-width="0.3" fill="#1c1c1c" text-anchor="middle" letter-spacing="0.1" font-family="'Liberation Serif','Noto Serif CJK SC',serif">Φ560</text><text x="124.90" y="606.95" font-size="14" font-weight="normal" stroke="#1c1c1c" stroke-width="0.3" fill="#1c1c1c" text-anchor="middle" letter-spacing="1.0" font-family="'Liberation Serif','Noto Serif CJK SC',serif">Φ595</text><text x="172.20" y="606.95" font-size="14" font-weight="normal" stroke="#1c1c1c" stroke-width="0.3" fill="#1c1c1c" text-anchor="middle" letter-spacing="1.0" font-family="'Liberation Serif','Noto Serif CJK SC',serif">Φ630</text><text x="219.15" y="608.65" font-size="14" font-weight="normal" stroke="#1c1c1c" stroke-width="0.3" fill="#1c1c1c" text-anchor="middle" letter-spacing="1.1" font-family="'Liberation Serif','Noto Serif CJK SC',serif">650</text><text x="272.55" y="608.65" font-size="14" font-weight="normal" stroke="#1c1c1c" stroke-width="0.3" fill="#1c1c1c" text-anchor="middle" letter-spacing="1.1" font-family="'Liberation Serif','Noto Serif CJK SC',serif">600</text><text x="325.35" y="608.65" font-size="14" font-weight="normal" stroke="#1c1c1c" stroke-width="0.3" fill="#1c1c1c" text-anchor="middle" letter-spacing="1.1" font-family="'Liberation Serif','Noto Serif CJK SC',serif">560</text><text x="534.00" y="607.05" font-size="14" font-weight="normal" stroke="#1c1c1c" stroke-width="0.3" fill="#1c1c1c" text-anchor="middle" letter-spacing="1.1" font-family="'Liberation Serif','Noto Serif CJK SC',serif">500</text><text x="582.40" y="606.55" font-size="14" font-weight="normal" stroke="#1c1c1c" stroke-width="0.3" fill="#1c1c1c" text-anchor="middle" letter-spacing="1.1" font-family="'Liberation Serif','Noto Serif CJK SC',serif">400</text><text x="637.25" y="607.75" font-size="13" font-weight="normal" stroke="#1c1c1c" stroke-width="0.3" fill="#1c1c1c" text-anchor="middle" letter-spacing="0.3" font-family="'Liberation Serif','Noto Serif CJK SC',serif">12-Φ8.5</text><text x="699.50" y="607.75" font-size="14" font-weight="normal" stroke="#1c1c1c" stroke-width="0.3" fill="#1c1c1c" text-anchor="middle" letter-spacing="1.0" font-family="'Liberation Serif','Noto Serif CJK SC',serif">Φ10.5</text><text x="752.15" y="607.75" font-size="14" font-weight="normal" stroke="#1c1c1c" stroke-width="0.3" fill="#1c1c1c" text-anchor="middle" letter-spacing="1.1" font-family="'Liberation Serif','Noto Serif CJK SC',serif">355</text><text x="32.20" y="637.50" font-size="14" font-weight="normal" stroke="#1c1c1c" stroke-width="0.3" fill="#1c1c1c" text-anchor="middle" letter-spacing="1.1" font-family="'Liberation Serif','Noto Serif CJK SC',serif">6</text><text x="75.60" y="636.30" font-size="14" font-weight="normal" stroke="#1c1c1c" stroke-width="0.3" fill="#1c1c1c" text-anchor="middle" letter-spacing="0.1" font-family="'Liberation Serif','Noto Serif CJK SC',serif">Φ610</text><text x="124.90" y="636.30" font-size="14" font-weight="normal" stroke="#1c1c1c" stroke-width="0.3" fill="#1c1c1c" text-anchor="middle" letter-spacing="1.0" font-family="'Liberation Serif','Noto Serif CJK SC',serif">Φ645</text><text x="172.20" y="636.30" font-size="14" font-weight="normal" stroke="#1c1c1c" stroke-width="0.3" fill="#1c1c1c" text-anchor="middle" letter-spacing="1.0" font-family="'Liberation Serif','Noto Serif CJK SC',serif">Φ680</text><text x="219.15" y="638.00" font-size="14" font-weight="normal" stroke="#1c1c1c" stroke-width="0.3" fill="#1c1c1c" text-anchor="middle" letter-spacing="1.1" font-family="'Liberation Serif','Noto Serif CJK SC',serif">700</text><text x="272.55" y="638.00" font-size="14" font-weight="normal" stroke="#1c1c1c" stroke-width="0.3" fill="#1c1c1c" text-anchor="middle" letter-spacing="1.1" font-family="'Liberation Serif','Noto Serif CJK SC',serif">650</text><text x="325.35" y="638.00" font-size="14" font-weight="normal" stroke="#1c1c1c" stroke-width="0.3" fill="#1c1c1c" text-anchor="middle" letter-spacing="1.1" font-family="'Liberation Serif','Noto Serif CJK SC',serif">610</text><text x="376.60" y="637.10" font-size="14" font-weight="normal" stroke="#1c1c1c" stroke-width="0.3" fill="#1c1c1c" text-anchor="middle" letter-spacing="1.1" font-family="'Liberation Serif','Noto Serif CJK SC',serif">750</text><text x="433.15" y="637.10" font-size="14" font-weight="normal" stroke="#1c1c1c" stroke-width="0.3" fill="#1c1c1c" text-anchor="middle" letter-spacing="1.1" font-family="'Liberation Serif','Noto Serif CJK SC',serif">700</text><text x="483.25" y="637.10" font-size="14" font-weight="normal" stroke="#1c1c1c" stroke-width="0.3" fill="#1c1c1c" text-anchor="middle" letter-spacing="1.1" font-family="'Liberation Serif','Noto Serif CJK SC',serif">660</text><text x="534.00" y="636.40" font-size="14" font-weight="normal" stroke="#1c1c1c" stroke-width="0.3" fill="#1c1c1c" text-anchor="middle" letter-spacing="1.1" font-family="'Liberation Serif','Noto Serif CJK SC',serif">500</text><text x="582.40" y="635.90" font-size="14" font-weight="normal" stroke="#1c1c1c" stroke-width="0.3" fill="#1c1c1c" text-anchor="middle" letter-spacing="1.1" font-family="'Liberation Serif','Noto Serif CJK SC',serif">400</text><text x="637.25" y="637.10" font-size="13" font-weight="normal" stroke="#1c1c1c" stroke-width="0.3" fill="#1c1c1c" text-anchor="middle" letter-spacing="0.3" font-family="'Liberation Serif','Noto Serif CJK SC',serif">12-Φ10.5</text><text x="699.50" y="637.10" font-size="14" font-weight="normal" stroke="#1c1c1c" stroke-width="0.3" fill="#1c1c1c" text-anchor="middle" letter-spacing="1.0" font-family="'Liberation Serif','Noto Serif CJK SC',serif">Φ12.5</text><text x="752.15" y="637.10" font-size="14" font-weight="normal" stroke="#1c1c1c" stroke-width="0.3" fill="#1c1c1c" text-anchor="middle" letter-spacing="1.1" font-family="'Liberation Serif','Noto Serif CJK SC',serif">380</text><text x="32.20" y="666.85" font-size="14" font-weight="normal" stroke="#1c1c1c" stroke-width="0.3" fill="#1c1c1c" text-anchor="middle" letter-spacing="1.1" font-family="'Liberation Serif','Noto Serif CJK SC',serif">6.5</text><text x="75.60" y="665.65" font-size="14" font-weight="normal" stroke="#1c1c1c" stroke-width="0.3" fill="#1c1c1c" text-anchor="middle" letter-spacing="0.1" font-family="'Liberation Serif','Noto Serif CJK SC',serif">Φ660</text><text x="124.90" y="665.65" font-size="14" font-weight="normal" stroke="#1c1c1c" stroke-width="0.3" fill="#1c1c1c" text-anchor="middle" letter-spacing="1.0" font-family="'Liberation Serif','Noto Serif CJK SC',serif">Φ695</text><text x="172.20" y="665.65" font-size="14" font-weight="normal" stroke="#1c1c1c" stroke-width="0.3" fill="#1c1c1c" text-anchor="middle" letter-spacing="1.0" font-family="'Liberation Serif','Noto Serif CJK SC',serif">Φ730</text><text x="219.15" y="667.35" font-size="14" font-weight="normal" stroke="#1c1c1c" stroke-width="0.3" fill="#1c1c1c" text-anchor="middle" letter-spacing="1.1" font-family="'Liberation Serif','Noto Serif CJK SC',serif">850</text><text x="272.55" y="667.35" font-size="14" font-weight="normal" stroke="#1c1c1c" stroke-width="0.3" fill="#1c1c1c" text-anchor="middle" letter-spacing="1.1" font-family="'Liberation Serif','Noto Serif CJK SC',serif">800</text><text x="325.35" y="667.35" font-size="14" font-weight="normal" stroke="#1c1c1c" stroke-width="0.3" fill="#1c1c1c" text-anchor="middle" letter-spacing="1.1" font-family="'Liberation Serif','Noto Serif CJK SC',serif">760</text><text x="534.00" y="665.75" font-size="14" font-weight="normal" stroke="#1c1c1c" stroke-width="0.3" fill="#1c1c1c" text-anchor="middle" letter-spacing="1.1" font-family="'Liberation Serif','Noto Serif CJK SC',serif">500</text><text x="582.40" y="665.25" font-size="14" font-weight="normal" stroke="#1c1c1c" stroke-width="0.3" fill="#1c1c1c" text-anchor="middle" letter-spacing="1.1" font-family="'Liberation Serif','Noto Serif CJK SC',serif">400</text><text x="637.25" y="666.45" font-size="13" font-weight="normal" stroke="#1c1c1c" stroke-width="0.3" fill="#1c1c1c" text-anchor="middle" letter-spacing="0.3" font-family="'Liberation Serif','Noto Serif CJK SC',serif">12-Φ10.5</text><text x="699.50" y="666.45" font-size="14" font-weight="normal" stroke="#1c1c1c" stroke-width="0.3" fill="#1c1c1c" text-anchor="middle" letter-spacing="1.0" font-family="'Liberation Serif','Noto Serif CJK SC',serif">Φ12.5</text><text x="752.15" y="666.45" font-size="14" font-weight="normal" stroke="#1c1c1c" stroke-width="0.3" fill="#1c1c1c" text-anchor="middle" letter-spacing="1.1" font-family="'Liberation Serif','Noto Serif CJK SC',serif">405</text><text x="32.20" y="696.20" font-size="14" font-weight="normal" stroke="#1c1c1c" stroke-width="0.3" fill="#1c1c1c" text-anchor="middle" letter-spacing="1.1" font-family="'Liberation Serif','Noto Serif CJK SC',serif">7</text><text x="75.60" y="695.00" font-size="14" font-weight="normal" stroke="#1c1c1c" stroke-width="0.3" fill="#1c1c1c" text-anchor="middle" letter-spacing="0.1" font-family="'Liberation Serif','Noto Serif CJK SC',serif">Φ710</text><text x="124.90" y="695.00" font-size="14" font-weight="normal" stroke="#1c1c1c" stroke-width="0.3" fill="#1c1c1c" text-anchor="middle" letter-spacing="1.0" font-family="'Liberation Serif','Noto Serif CJK SC',serif">Φ750</text><text x="172.20" y="695.00" font-size="14" font-weight="normal" stroke="#1c1c1c" stroke-width="0.3" fill="#1c1c1c" text-anchor="middle" letter-spacing="1.0" font-family="'Liberation Serif','Noto Serif CJK SC',serif">Φ790</text><text x="219.15" y="696.70" font-size="14" font-weight="normal" stroke="#1c1c1c" stroke-width="0.3" fill="#1c1c1c" text-anchor="middle" letter-spacing="1.1" font-family="'Liberation Serif','Noto Serif CJK SC',serif">850</text><text x="272.55" y="696.70" font-size="14" font-weight="normal" stroke="#1c1c1c" stroke-width="0.3" fill="#1c1c1c" text-anchor="middle" letter-spacing="1.1" font-family="'Liberation Serif','Noto Serif CJK SC',serif">810</text><text x="325.35" y="696.70" font-size="14" font-weight="normal" stroke="#1c1c1c" stroke-width="0.3" fill="#1c1c1c" text-anchor="middle" letter-spacing="1.1" font-family="'Liberation Serif','Noto Serif CJK SC',serif">760</text><text x="376.60" y="695.80" font-size="14" font-weight="normal" stroke="#1c1c1c" stroke-width="0.3" fill="#1c1c1c" text-anchor="middle" letter-spacing="1.1" font-family="'Liberation Serif','Noto Serif CJK SC',serif">900</text><text x="433.15" y="695.80" font-size="14" font-weight="normal" stroke="#1c1c1c" stroke-width="0.3" fill="#1c1c1c" text-anchor="middle" letter-spacing="1.1" font-family="'Liberation Serif','Noto Serif CJK SC',serif">860</text><text x="483.25" y="695.80" font-size="14" font-weight="normal" stroke="#1c1c1c" stroke-width="0.3" fill="#1c1c1c" text-anchor="middle" letter-spacing="1.1" font-family="'Liberation Serif','Noto Serif CJK SC',serif">810</text><text x="534.00" y="695.10" font-size="14" font-weight="normal" stroke="#1c1c1c" stroke-width="0.3" fill="#1c1c1c" text-anchor="middle" letter-spacing="1.1" font-family="'Liberation Serif','Noto Serif CJK SC',serif">600</text><text x="582.40" y="694.60" font-size="14" font-weight="normal" stroke="#1c1c1c" stroke-width="0.3" fill="#1c1c1c" text-anchor="middle" letter-spacing="1.1" font-family="'Liberation Serif','Noto Serif CJK SC',serif">500</text><text x="637.25" y="695.80" font-size="13" font-weight="normal" stroke="#1c1c1c" stroke-width="0.3" fill="#1c1c1c" text-anchor="middle" letter-spacing="0.3" font-family="'Liberation Serif','Noto Serif CJK SC',serif">12-Φ10.5</text><text x="699.50" y="695.80" font-size="14" font-weight="normal" stroke="#1c1c1c" stroke-width="0.3" fill="#1c1c1c" text-anchor="middle" letter-spacing="1.0" font-family="'Liberation Serif','Noto Serif CJK SC',serif">Φ12.5</text><text x="752.15" y="695.80" font-size="14" font-weight="normal" stroke="#1c1c1c" stroke-width="0.3" fill="#1c1c1c" text-anchor="middle" letter-spacing="1.1" font-family="'Liberation Serif','Noto Serif CJK SC',serif">440</text><text x="32.20" y="725.55" font-size="14" font-weight="normal" stroke="#1c1c1c" stroke-width="0.3" fill="#1c1c1c" text-anchor="middle" letter-spacing="1.1" font-family="'Liberation Serif','Noto Serif CJK SC',serif">8</text><text x="75.60" y="724.35" font-size="14" font-weight="normal" stroke="#1c1c1c" stroke-width="0.3" fill="#1c1c1c" text-anchor="middle" letter-spacing="0.1" font-family="'Liberation Serif','Noto Serif CJK SC',serif">Φ810</text><text x="124.90" y="724.35" font-size="14" font-weight="normal" stroke="#1c1c1c" stroke-width="0.3" fill="#1c1c1c" text-anchor="middle" letter-spacing="1.0" font-family="'Liberation Serif','Noto Serif CJK SC',serif">Φ850</text><text x="172.20" y="724.35" font-size="14" font-weight="normal" stroke="#1c1c1c" stroke-width="0.3" fill="#1c1c1c" text-anchor="middle" letter-spacing="1.0" font-family="'Liberation Serif','Noto Serif CJK SC',serif">Φ890</text><text x="219.15" y="726.05" font-size="14" font-weight="normal" stroke="#1c1c1c" stroke-width="0.3" fill="#1c1c1c" text-anchor="middle" letter-spacing="1.1" font-family="'Liberation Serif','Noto Serif CJK SC',serif">900</text><text x="272.55" y="726.05" font-size="14" font-weight="normal" stroke="#1c1c1c" stroke-width="0.3" fill="#1c1c1c" text-anchor="middle" letter-spacing="1.1" font-family="'Liberation Serif','Noto Serif CJK SC',serif">860</text><text x="325.35" y="726.05" font-size="14" font-weight="normal" stroke="#1c1c1c" stroke-width="0.3" fill="#1c1c1c" text-anchor="middle" letter-spacing="1.1" font-family="'Liberation Serif','Noto Serif CJK SC',serif">810</text><text x="376.60" y="725.15" font-size="14" font-weight="normal" stroke="#1c1c1c" stroke-width="0.3" fill="#1c1c1c" text-anchor="middle" letter-spacing="1.1" font-family="'Liberation Serif','Noto Serif CJK SC',serif">950</text><text x="433.15" y="725.15" font-size="14" font-weight="normal" stroke="#1c1c1c" stroke-width="0.3" fill="#1c1c1c" text-anchor="middle" letter-spacing="1.1" font-family="'Liberation Serif','Noto Serif CJK SC',serif">910</text><text x="483.25" y="725.15" font-size="14" font-weight="normal" stroke="#1c1c1c" stroke-width="0.3" fill="#1c1c1c" text-anchor="middle" letter-spacing="1.1" font-family="'Liberation Serif','Noto Serif CJK SC',serif">860</text><text x="534.00" y="724.45" font-size="14" font-weight="normal" stroke="#1c1c1c" stroke-width="0.3" fill="#1c1c1c" text-anchor="middle" letter-spacing="1.1" font-family="'Liberation Serif','Noto Serif CJK SC',serif">600</text><text x="582.40" y="723.95" font-size="14" font-weight="normal" stroke="#1c1c1c" stroke-width="0.3" fill="#1c1c1c" text-anchor="middle" letter-spacing="1.1" font-family="'Liberation Serif','Noto Serif CJK SC',serif">500</text><text x="637.25" y="725.15" font-size="13" font-weight="normal" stroke="#1c1c1c" stroke-width="0.3" fill="#1c1c1c" text-anchor="middle" letter-spacing="0.3" font-family="'Liberation Serif','Noto Serif CJK SC',serif">16-Φ10.5</text><text x="699.50" y="725.15" font-size="14" font-weight="normal" stroke="#1c1c1c" stroke-width="0.3" fill="#1c1c1c" text-anchor="middle" letter-spacing="1.0" font-family="'Liberation Serif','Noto Serif CJK SC',serif">Φ12.5</text><text x="752.15" y="725.15" font-size="14" font-weight="normal" stroke="#1c1c1c" stroke-width="0.3" fill="#1c1c1c" text-anchor="middle" letter-spacing="1.1" font-family="'Liberation Serif','Noto Serif CJK SC',serif">490</text><text x="32.20" y="754.90" font-size="14" font-weight="normal" stroke="#1c1c1c" stroke-width="0.3" fill="#1c1c1c" text-anchor="middle" letter-spacing="1.1" font-family="'Liberation Serif','Noto Serif CJK SC',serif">9</text><text x="75.60" y="753.70" font-size="14" font-weight="normal" stroke="#1c1c1c" stroke-width="0.3" fill="#1c1c1c" text-anchor="middle" letter-spacing="0.1" font-family="'Liberation Serif','Noto Serif CJK SC',serif">Φ910</text><text x="124.90" y="753.70" font-size="14" font-weight="normal" stroke="#1c1c1c" stroke-width="0.3" fill="#1c1c1c" text-anchor="middle" letter-spacing="1.0" font-family="'Liberation Serif','Noto Serif CJK SC',serif">Φ950</text><text x="172.20" y="753.70" font-size="14" font-weight="normal" stroke="#1c1c1c" stroke-width="0.3" fill="#1c1c1c" text-anchor="middle" letter-spacing="1.0" font-family="'Liberation Serif','Noto Serif CJK SC',serif">Φ990</text><text x="219.15" y="755.40" font-size="14" font-weight="normal" stroke="#1c1c1c" stroke-width="0.3" fill="#1c1c1c" text-anchor="middle" letter-spacing="1.1" font-family="'Liberation Serif','Noto Serif CJK SC',serif">900</text><text x="272.55" y="755.40" font-size="14" font-weight="normal" stroke="#1c1c1c" stroke-width="0.3" fill="#1c1c1c" text-anchor="middle" letter-spacing="1.1" font-family="'Liberation Serif','Noto Serif CJK SC',serif">860</text><text x="325.35" y="755.40" font-size="14" font-weight="normal" stroke="#1c1c1c" stroke-width="0.3" fill="#1c1c1c" text-anchor="middle" letter-spacing="1.1" font-family="'Liberation Serif','Noto Serif CJK SC',serif">810</text><text x="376.60" y="754.50" font-size="14" font-weight="normal" stroke="#1c1c1c" stroke-width="0.3" fill="#1c1c1c" text-anchor="middle" letter-spacing="1.1" font-family="'Liberation Serif','Noto Serif CJK SC',serif">1000</text><text x="433.15" y="754.50" font-size="14" font-weight="normal" stroke="#1c1c1c" stroke-width="0.3" fill="#1c1c1c" text-anchor="middle" letter-spacing="1.1" font-family="'Liberation Serif','Noto Serif CJK SC',serif">960</text><text x="483.25" y="754.50" font-size="14" font-weight="normal" stroke="#1c1c1c" stroke-width="0.3" fill="#1c1c1c" text-anchor="middle" letter-spacing="1.1" font-family="'Liberation Serif','Noto Serif CJK SC',serif">910</text><text x="534.00" y="753.80" font-size="14" font-weight="normal" stroke="#1c1c1c" stroke-width="0.3" fill="#1c1c1c" text-anchor="middle" letter-spacing="1.1" font-family="'Liberation Serif','Noto Serif CJK SC',serif">700</text><text x="582.40" y="753.30" font-size="14" font-weight="normal" stroke="#1c1c1c" stroke-width="0.3" fill="#1c1c1c" text-anchor="middle" letter-spacing="1.1" font-family="'Liberation Serif','Noto Serif CJK SC',serif">600</text><text x="637.25" y="754.50" font-size="13" font-weight="normal" stroke="#1c1c1c" stroke-width="0.3" fill="#1c1c1c" text-anchor="middle" letter-spacing="0.3" font-family="'Liberation Serif','Noto Serif CJK SC',serif">16-Φ12.5</text><text x="699.50" y="754.50" font-size="14" font-weight="normal" stroke="#1c1c1c" stroke-width="0.3" fill="#1c1c1c" text-anchor="middle" letter-spacing="1.0" font-family="'Liberation Serif','Noto Serif CJK SC',serif">Φ14.5</text><text x="752.15" y="754.50" font-size="14" font-weight="normal" stroke="#1c1c1c" stroke-width="0.3" fill="#1c1c1c" text-anchor="middle" letter-spacing="1.1" font-family="'Liberation Serif','Noto Serif CJK SC',serif">545</text><text x="32.20" y="784.25" font-size="14" font-weight="normal" stroke="#1c1c1c" stroke-width="0.3" fill="#1c1c1c" text-anchor="middle" letter-spacing="1.1" font-family="'Liberation Serif','Noto Serif CJK SC',serif">10</text><text x="75.25" y="783.05" font-size="14" font-weight="normal" stroke="#1c1c1c" stroke-width="0.3" fill="#1c1c1c" text-anchor="middle" letter-spacing="-0.6" font-family="'Liberation Serif','Noto Serif CJK SC',serif">Φ1010</text><text x="124.90" y="783.05" font-size="14" font-weight="normal" stroke="#1c1c1c" stroke-width="0.3" fill="#1c1c1c" text-anchor="middle" letter-spacing="1.0" font-family="'Liberation Serif','Noto Serif CJK SC',serif">Φ1055</text><text x="172.20" y="783.05" font-size="14" font-weight="normal" stroke="#1c1c1c" stroke-width="0.3" fill="#1c1c1c" text-anchor="middle" letter-spacing="1.0" font-family="'Liberation Serif','Noto Serif CJK SC',serif">Φ1100</text><text x="219.15" y="784.75" font-size="14" font-weight="normal" stroke="#1c1c1c" stroke-width="0.3" fill="#1c1c1c" text-anchor="middle" letter-spacing="1.1" font-family="'Liberation Serif','Noto Serif CJK SC',serif">950</text><text x="272.55" y="784.75" font-size="14" font-weight="normal" stroke="#1c1c1c" stroke-width="0.3" fill="#1c1c1c" text-anchor="middle" letter-spacing="1.1" font-family="'Liberation Serif','Noto Serif CJK SC',serif">880</text><text x="325.35" y="784.75" font-size="14" font-weight="normal" stroke="#1c1c1c" stroke-width="0.3" fill="#1c1c1c" text-anchor="middle" letter-spacing="1.1" font-family="'Liberation Serif','Noto Serif CJK SC',serif">830</text><text x="376.60" y="783.85" font-size="14" font-weight="normal" stroke="#1c1c1c" stroke-width="0.3" fill="#1c1c1c" text-anchor="middle" letter-spacing="1.1" font-family="'Liberation Serif','Noto Serif CJK SC',serif">1000</text><text x="433.15" y="783.85" font-size="14" font-weight="normal" stroke="#1c1c1c" stroke-width="0.3" fill="#1c1c1c" text-anchor="middle" letter-spacing="1.1" font-family="'Liberation Serif','Noto Serif CJK SC',serif">930</text><text x="483.25" y="783.85" font-size="14" font-weight="normal" stroke="#1c1c1c" stroke-width="0.3" fill="#1c1c1c" text-anchor="middle" letter-spacing="1.1" font-family="'Liberation Serif','Noto Serif CJK SC',serif">880</text><text x="534.00" y="783.15" font-size="14" font-weight="normal" stroke="#1c1c1c" stroke-width="0.3" fill="#1c1c1c" text-anchor="middle" letter-spacing="1.1" font-family="'Liberation Serif','Noto Serif CJK SC',serif">700</text><text x="582.40" y="782.65" font-size="14" font-weight="normal" stroke="#1c1c1c" stroke-width="0.3" fill="#1c1c1c" text-anchor="middle" letter-spacing="1.1" font-family="'Liberation Serif','Noto Serif CJK SC',serif">600</text><text x="637.25" y="783.85" font-size="13" font-weight="normal" stroke="#1c1c1c" stroke-width="0.3" fill="#1c1c1c" text-anchor="middle" letter-spacing="0.3" font-family="'Liberation Serif','Noto Serif CJK SC',serif">16-Φ12.5</text><text x="699.50" y="783.85" font-size="14" font-weight="normal" stroke="#1c1c1c" stroke-width="0.3" fill="#1c1c1c" text-anchor="middle" letter-spacing="1.0" font-family="'Liberation Serif','Noto Serif CJK SC',serif">Φ14.5</text><text x="752.15" y="783.85" font-size="14" font-weight="normal" stroke="#1c1c1c" stroke-width="0.3" fill="#1c1c1c" text-anchor="middle" letter-spacing="1.1" font-family="'Liberation Serif','Noto Serif CJK SC',serif">595</text><text x="32.20" y="813.60" font-size="14" font-weight="normal" stroke="#1c1c1c" stroke-width="0.3" fill="#1c1c1c" text-anchor="middle" letter-spacing="1.1" font-family="'Liberation Serif','Noto Serif CJK SC',serif">11</text><text x="75.25" y="812.40" font-size="14" font-weight="normal" stroke="#1c1c1c" stroke-width="0.3" fill="#1c1c1c" text-anchor="middle" letter-spacing="-0.6" font-family="'Liberation Serif','Noto Serif CJK SC',serif">Φ1110</text><text x="124.90" y="812.40" font-size="14" font-weight="normal" stroke="#1c1c1c" stroke-width="0.3" fill="#1c1c1c" text-anchor="middle" letter-spacing="1.0" font-family="'Liberation Serif','Noto Serif CJK SC',serif">Φ1155</text><text x="172.20" y="812.40" font-size="14" font-weight="normal" stroke="#1c1c1c" stroke-width="0.3" fill="#1c1c1c" text-anchor="middle" letter-spacing="1.0" font-family="'Liberation Serif','Noto Serif CJK SC',serif">Φ1200</text><text x="219.15" y="814.10" font-size="14" font-weight="normal" stroke="#1c1c1c" stroke-width="0.3" fill="#1c1c1c" text-anchor="middle" letter-spacing="1.1" font-family="'Liberation Serif','Noto Serif CJK SC',serif">1050</text><text x="272.55" y="814.10" font-size="14" font-weight="normal" stroke="#1c1c1c" stroke-width="0.3" fill="#1c1c1c" text-anchor="middle" letter-spacing="1.1" font-family="'Liberation Serif','Noto Serif CJK SC',serif">980</text><text x="325.35" y="814.10" font-size="14" font-weight="normal" stroke="#1c1c1c" stroke-width="0.3" fill="#1c1c1c" text-anchor="middle" letter-spacing="1.1" font-family="'Liberation Serif','Noto Serif CJK SC',serif">930</text><text x="376.60" y="813.20" font-size="14" font-weight="normal" stroke="#1c1c1c" stroke-width="0.3" fill="#1c1c1c" text-anchor="middle" letter-spacing="1.1" font-family="'Liberation Serif','Noto Serif CJK SC',serif">1100</text><text x="433.15" y="813.20" font-size="14" font-weight="normal" stroke="#1c1c1c" stroke-width="0.3" fill="#1c1c1c" text-anchor="middle" letter-spacing="1.1" font-family="'Liberation Serif','Noto Serif CJK SC',serif">1030</text><text x="483.25" y="813.20" font-size="14" font-weight="normal" stroke="#1c1c1c" stroke-width="0.3" fill="#1c1c1c" text-anchor="middle" letter-spacing="1.1" font-family="'Liberation Serif','Noto Serif CJK SC',serif">980</text><text x="534.00" y="812.50" font-size="14" font-weight="normal" stroke="#1c1c1c" stroke-width="0.3" fill="#1c1c1c" text-anchor="middle" letter-spacing="1.1" font-family="'Liberation Serif','Noto Serif CJK SC',serif">800</text><text x="582.40" y="812.00" font-size="14" font-weight="normal" stroke="#1c1c1c" stroke-width="0.3" fill="#1c1c1c" text-anchor="middle" letter-spacing="1.1" font-family="'Liberation Serif','Noto Serif CJK SC',serif">700</text><text x="637.25" y="813.20" font-size="13" font-weight="normal" stroke="#1c1c1c" stroke-width="0.3" fill="#1c1c1c" text-anchor="middle" letter-spacing="0.3" font-family="'Liberation Serif','Noto Serif CJK SC',serif">16-Φ12.5</text><text x="699.50" y="813.20" font-size="14" font-weight="normal" stroke="#1c1c1c" stroke-width="0.3" fill="#1c1c1c" text-anchor="middle" letter-spacing="1.0" font-family="'Liberation Serif','Noto Serif CJK SC',serif">Φ14.5</text><text x="752.15" y="813.20" font-size="14" font-weight="normal" stroke="#1c1c1c" stroke-width="0.3" fill="#1c1c1c" text-anchor="middle" letter-spacing="1.1" font-family="'Liberation Serif','Noto Serif CJK SC',serif">645</text><text x="32.20" y="842.95" font-size="14" font-weight="normal" stroke="#1c1c1c" stroke-width="0.3" fill="#1c1c1c" text-anchor="middle" letter-spacing="1.1" font-family="'Liberation Serif','Noto Serif CJK SC',serif">12</text><text x="75.25" y="841.75" font-size="14" font-weight="normal" stroke="#1c1c1c" stroke-width="0.3" fill="#1c1c1c" text-anchor="middle" letter-spacing="-0.6" font-family="'Liberation Serif','Noto Serif CJK SC',serif">Φ1210</text><text x="124.90" y="841.75" font-size="14" font-weight="normal" stroke="#1c1c1c" stroke-width="0.3" fill="#1c1c1c" text-anchor="middle" letter-spacing="1.0" font-family="'Liberation Serif','Noto Serif CJK SC',serif">Φ1260</text><text x="172.20" y="841.75" font-size="14" font-weight="normal" stroke="#1c1c1c" stroke-width="0.3" fill="#1c1c1c" text-anchor="middle" letter-spacing="1.0" font-family="'Liberation Serif','Noto Serif CJK SC',serif">Φ1310</text><text x="219.15" y="843.45" font-size="14" font-weight="normal" stroke="#1c1c1c" stroke-width="0.3" fill="#1c1c1c" text-anchor="middle" letter-spacing="1.1" font-family="'Liberation Serif','Noto Serif CJK SC',serif">1050</text><text x="272.55" y="843.45" font-size="14" font-weight="normal" stroke="#1c1c1c" stroke-width="0.3" fill="#1c1c1c" text-anchor="middle" letter-spacing="1.1" font-family="'Liberation Serif','Noto Serif CJK SC',serif">980</text><text x="325.35" y="843.45" font-size="14" font-weight="normal" stroke="#1c1c1c" stroke-width="0.3" fill="#1c1c1c" text-anchor="middle" letter-spacing="1.1" font-family="'Liberation Serif','Noto Serif CJK SC',serif">930</text><text x="376.60" y="842.55" font-size="14" font-weight="normal" stroke="#1c1c1c" stroke-width="0.3" fill="#1c1c1c" text-anchor="middle" letter-spacing="1.1" font-family="'Liberation Serif','Noto Serif CJK SC',serif">1200</text><text x="433.15" y="842.55" font-size="14" font-weight="normal" stroke="#1c1c1c" stroke-width="0.3" fill="#1c1c1c" text-anchor="middle" letter-spacing="1.1" font-family="'Liberation Serif','Noto Serif CJK SC',serif">1130</text><text x="483.25" y="842.55" font-size="14" font-weight="normal" stroke="#1c1c1c" stroke-width="0.3" fill="#1c1c1c" text-anchor="middle" letter-spacing="1.1" font-family="'Liberation Serif','Noto Serif CJK SC',serif">1080</text><text x="534.00" y="841.85" font-size="14" font-weight="normal" stroke="#1c1c1c" stroke-width="0.3" fill="#1c1c1c" text-anchor="middle" letter-spacing="1.1" font-family="'Liberation Serif','Noto Serif CJK SC',serif">1000</text><text x="582.40" y="841.35" font-size="14" font-weight="normal" stroke="#1c1c1c" stroke-width="0.3" fill="#1c1c1c" text-anchor="middle" letter-spacing="1.1" font-family="'Liberation Serif','Noto Serif CJK SC',serif">900</text><text x="637.25" y="842.55" font-size="13" font-weight="normal" stroke="#1c1c1c" stroke-width="0.3" fill="#1c1c1c" text-anchor="middle" letter-spacing="0.3" font-family="'Liberation Serif','Noto Serif CJK SC',serif">20-Φ12.5</text><text x="699.50" y="842.55" font-size="14" font-weight="normal" stroke="#1c1c1c" stroke-width="0.3" fill="#1c1c1c" text-anchor="middle" letter-spacing="1.0" font-family="'Liberation Serif','Noto Serif CJK SC',serif">Φ14.5</text><text x="752.15" y="842.55" font-size="14" font-weight="normal" stroke="#1c1c1c" stroke-width="0.3" fill="#1c1c1c" text-anchor="middle" letter-spacing="1.1" font-family="'Liberation Serif','Noto Serif CJK SC',serif">700</text><text x="32.20" y="872.30" font-size="14" font-weight="normal" stroke="#1c1c1c" stroke-width="0.3" fill="#1c1c1c" text-anchor="middle" letter-spacing="1.1" font-family="'Liberation Serif','Noto Serif CJK SC',serif">13</text><text x="75.25" y="871.10" font-size="14" font-weight="normal" stroke="#1c1c1c" stroke-width="0.3" fill="#1c1c1c" text-anchor="middle" letter-spacing="-0.6" font-family="'Liberation Serif','Noto Serif CJK SC',serif">Φ1310</text><text x="124.90" y="871.10" font-size="14" font-weight="normal" stroke="#1c1c1c" stroke-width="0.3" fill="#1c1c1c" text-anchor="middle" letter-spacing="1.0" font-family="'Liberation Serif','Noto Serif CJK SC',serif">Φ1360</text><text x="172.20" y="871.10" font-size="14" font-weight="normal" stroke="#1c1c1c" stroke-width="0.3" fill="#1c1c1c" text-anchor="middle" letter-spacing="1.0" font-family="'Liberation Serif','Noto Serif CJK SC',serif">Φ1410</text><text x="219.15" y="872.80" font-size="14" font-weight="normal" stroke="#1c1c1c" stroke-width="0.3" fill="#1c1c1c" text-anchor="middle" letter-spacing="1.1" font-family="'Liberation Serif','Noto Serif CJK SC',serif">1100</text><text x="272.55" y="872.80" font-size="14" font-weight="normal" stroke="#1c1c1c" stroke-width="0.3" fill="#1c1c1c" text-anchor="middle" letter-spacing="1.1" font-family="'Liberation Serif','Noto Serif CJK SC',serif">1030</text><text x="325.35" y="872.80" font-size="14" font-weight="normal" stroke="#1c1c1c" stroke-width="0.3" fill="#1c1c1c" text-anchor="middle" letter-spacing="1.1" font-family="'Liberation Serif','Noto Serif CJK SC',serif">980</text><text x="376.60" y="871.90" font-size="14" font-weight="normal" stroke="#1c1c1c" stroke-width="0.3" fill="#1c1c1c" text-anchor="middle" letter-spacing="1.1" font-family="'Liberation Serif','Noto Serif CJK SC',serif">1200</text><text x="433.15" y="871.90" font-size="14" font-weight="normal" stroke="#1c1c1c" stroke-width="0.3" fill="#1c1c1c" text-anchor="middle" letter-spacing="1.1" font-family="'Liberation Serif','Noto Serif CJK SC',serif">1130</text><text x="483.25" y="871.90" font-size="14" font-weight="normal" stroke="#1c1c1c" stroke-width="0.3" fill="#1c1c1c" text-anchor="middle" letter-spacing="1.1" font-family="'Liberation Serif','Noto Serif CJK SC',serif">1080</text><text x="534.00" y="871.20" font-size="14" font-weight="normal" stroke="#1c1c1c" stroke-width="0.3" fill="#1c1c1c" text-anchor="middle" letter-spacing="1.1" font-family="'Liberation Serif','Noto Serif CJK SC',serif">1100</text><text x="582.40" y="870.70" font-size="14" font-weight="normal" stroke="#1c1c1c" stroke-width="0.3" fill="#1c1c1c" text-anchor="middle" letter-spacing="1.1" font-family="'Liberation Serif','Noto Serif CJK SC',serif">1000</text><text x="637.25" y="871.90" font-size="13" font-weight="normal" stroke="#1c1c1c" stroke-width="0.3" fill="#1c1c1c" text-anchor="middle" letter-spacing="0.3" font-family="'Liberation Serif','Noto Serif CJK SC',serif">20-Φ12.5</text><text x="699.50" y="871.90" font-size="14" font-weight="normal" stroke="#1c1c1c" stroke-width="0.3" fill="#1c1c1c" text-anchor="middle" letter-spacing="1.0" font-family="'Liberation Serif','Noto Serif CJK SC',serif">Φ14.5</text><text x="752.15" y="871.90" font-size="14" font-weight="normal" stroke="#1c1c1c" stroke-width="0.3" fill="#1c1c1c" text-anchor="middle" letter-spacing="1.1" font-family="'Liberation Serif','Noto Serif CJK SC',serif">750</text><text x="32.20" y="901.65" font-size="14" font-weight="normal" stroke="#1c1c1c" stroke-width="0.3" fill="#1c1c1c" text-anchor="middle" letter-spacing="1.1" font-family="'Liberation Serif','Noto Serif CJK SC',serif">14</text><text x="75.25" y="900.45" font-size="14" font-weight="normal" stroke="#1c1c1c" stroke-width="0.3" fill="#1c1c1c" text-anchor="middle" letter-spacing="-0.6" font-family="'Liberation Serif','Noto Serif CJK SC',serif">Φ1410</text><text x="124.90" y="900.45" font-size="14" font-weight="normal" stroke="#1c1c1c" stroke-width="0.3" fill="#1c1c1c" text-anchor="middle" letter-spacing="1.0" font-family="'Liberation Serif','Noto Serif CJK SC',serif">Φ1460</text><text x="172.20" y="900.45" font-size="14" font-weight="normal" stroke="#1c1c1c" stroke-width="0.3" fill="#1c1c1c" text-anchor="middle" letter-spacing="1.0" font-family="'Liberation Serif','Noto Serif CJK SC',serif">Φ1510</text><text x="219.15" y="902.15" font-size="14" font-weight="normal" stroke="#1c1c1c" stroke-width="0.3" fill="#1c1c1c" text-anchor="middle" letter-spacing="1.1" font-family="'Liberation Serif','Noto Serif CJK SC',serif">1150</text><text x="272.55" y="902.15" font-size="14" font-weight="normal" stroke="#1c1c1c" stroke-width="0.3" fill="#1c1c1c" text-anchor="middle" letter-spacing="1.1" font-family="'Liberation Serif','Noto Serif CJK SC',serif">1090</text><text x="325.35" y="902.15" font-size="14" font-weight="normal" stroke="#1c1c1c" stroke-width="0.3" fill="#1c1c1c" text-anchor="middle" letter-spacing="1.1" font-family="'Liberation Serif','Noto Serif CJK SC',serif">1030</text><text x="376.60" y="901.25" font-size="14" font-weight="normal" stroke="#1c1c1c" stroke-width="0.3" fill="#1c1c1c" text-anchor="middle" letter-spacing="1.1" font-family="'Liberation Serif','Noto Serif CJK SC',serif">1300</text><text x="433.15" y="901.25" font-size="14" font-weight="normal" stroke="#1c1c1c" stroke-width="0.3" fill="#1c1c1c" text-anchor="middle" letter-spacing="1.1" font-family="'Liberation Serif','Noto Serif CJK SC',serif">1240</text><text x="483.25" y="901.25" font-size="14" font-weight="normal" stroke="#1c1c1c" stroke-width="0.3" fill="#1c1c1c" text-anchor="middle" letter-spacing="1.1" font-family="'Liberation Serif','Noto Serif CJK SC',serif">1180</text><text x="534.00" y="900.55" font-size="14" font-weight="normal" stroke="#1c1c1c" stroke-width="0.3" fill="#1c1c1c" text-anchor="middle" letter-spacing="1.1" font-family="'Liberation Serif','Noto Serif CJK SC',serif">1200</text><text x="582.40" y="900.05" font-size="14" font-weight="normal" stroke="#1c1c1c" stroke-width="0.3" fill="#1c1c1c" text-anchor="middle" letter-spacing="1.1" font-family="'Liberation Serif','Noto Serif CJK SC',serif">1100</text><text x="637.25" y="901.25" font-size="13" font-weight="normal" stroke="#1c1c1c" stroke-width="0.3" fill="#1c1c1c" text-anchor="middle" letter-spacing="0.3" font-family="'Liberation Serif','Noto Serif CJK SC',serif">20-Φ12.5</text><text x="699.50" y="901.25" font-size="14" font-weight="normal" stroke="#1c1c1c" stroke-width="0.3" fill="#1c1c1c" text-anchor="middle" letter-spacing="1.0" font-family="'Liberation Serif','Noto Serif CJK SC',serif">Φ14.5</text><text x="752.15" y="901.25" font-size="14" font-weight="normal" stroke="#1c1c1c" stroke-width="0.3" fill="#1c1c1c" text-anchor="middle" letter-spacing="1.1" font-family="'Liberation Serif','Noto Serif CJK SC',serif">810</text><text x="32.20" y="931.00" font-size="14" font-weight="normal" stroke="#1c1c1c" stroke-width="0.3" fill="#1c1c1c" text-anchor="middle" letter-spacing="1.1" font-family="'Liberation Serif','Noto Serif CJK SC',serif">15</text><text x="75.25" y="929.80" font-size="14" font-weight="normal" stroke="#1c1c1c" stroke-width="0.3" fill="#1c1c1c" text-anchor="middle" letter-spacing="-0.6" font-family="'Liberation Serif','Noto Serif CJK SC',serif">Φ1510</text><text x="124.90" y="929.80" font-size="14" font-weight="normal" stroke="#1c1c1c" stroke-width="0.3" fill="#1c1c1c" text-anchor="middle" letter-spacing="1.0" font-family="'Liberation Serif','Noto Serif CJK SC',serif">Φ1560</text><text x="172.20" y="929.80" font-size="14" font-weight="normal" stroke="#1c1c1c" stroke-width="0.3" fill="#1c1c1c" text-anchor="middle" letter-spacing="1.0" font-family="'Liberation Serif','Noto Serif CJK SC',serif">Φ1610</text><text x="219.15" y="931.50" font-size="14" font-weight="normal" stroke="#1c1c1c" stroke-width="0.3" fill="#1c1c1c" text-anchor="middle" letter-spacing="1.1" font-family="'Liberation Serif','Noto Serif CJK SC',serif">1150</text><text x="272.55" y="931.50" font-size="14" font-weight="normal" stroke="#1c1c1c" stroke-width="0.3" fill="#1c1c1c" text-anchor="middle" letter-spacing="1.1" font-family="'Liberation Serif','Noto Serif CJK SC',serif">1090</text><text x="325.35" y="931.50" font-size="14" font-weight="normal" stroke="#1c1c1c" stroke-width="0.3" fill="#1c1c1c" text-anchor="middle" letter-spacing="1.1" font-family="'Liberation Serif','Noto Serif CJK SC',serif">1030</text><text x="376.60" y="930.60" font-size="14" font-weight="normal" stroke="#1c1c1c" stroke-width="0.3" fill="#1c1c1c" text-anchor="middle" letter-spacing="1.1" font-family="'Liberation Serif','Noto Serif CJK SC',serif">1300</text><text x="433.15" y="930.60" font-size="14" font-weight="normal" stroke="#1c1c1c" stroke-width="0.3" fill="#1c1c1c" text-anchor="middle" letter-spacing="1.1" font-family="'Liberation Serif','Noto Serif CJK SC',serif">1240</text><text x="483.25" y="930.60" font-size="14" font-weight="normal" stroke="#1c1c1c" stroke-width="0.3" fill="#1c1c1c" text-anchor="middle" letter-spacing="1.1" font-family="'Liberation Serif','Noto Serif CJK SC',serif">1180</text><text x="534.00" y="929.90" font-size="14" font-weight="normal" stroke="#1c1c1c" stroke-width="0.3" fill="#1c1c1c" text-anchor="middle" letter-spacing="1.1" font-family="'Liberation Serif','Noto Serif CJK SC',serif">1300</text><text x="582.40" y="929.40" font-size="14" font-weight="normal" stroke="#1c1c1c" stroke-width="0.3" fill="#1c1c1c" text-anchor="middle" letter-spacing="1.1" font-family="'Liberation Serif','Noto Serif CJK SC',serif">1200</text><text x="637.25" y="930.60" font-size="13" font-weight="normal" stroke="#1c1c1c" stroke-width="0.3" fill="#1c1c1c" text-anchor="middle" letter-spacing="0.3" font-family="'Liberation Serif','Noto Serif CJK SC',serif">24-Φ12.5</text><text x="699.50" y="930.60" font-size="14" font-weight="normal" stroke="#1c1c1c" stroke-width="0.3" fill="#1c1c1c" text-anchor="middle" letter-spacing="1.0" font-family="'Liberation Serif','Noto Serif CJK SC',serif">Φ14.5</text><text x="752.15" y="930.60" font-size="14" font-weight="normal" stroke="#1c1c1c" stroke-width="0.3" fill="#1c1c1c" text-anchor="middle" letter-spacing="1.1" font-family="'Liberation Serif','Noto Serif CJK SC',serif">865</text><text x="32.20" y="960.35" font-size="14" font-weight="normal" stroke="#1c1c1c" stroke-width="0.3" fill="#1c1c1c" text-anchor="middle" letter-spacing="1.1" font-family="'Liberation Serif','Noto Serif CJK SC',serif">16</text><text x="75.25" y="959.15" font-size="14" font-weight="normal" stroke="#1c1c1c" stroke-width="0.3" fill="#1c1c1c" text-anchor="middle" letter-spacing="-0.6" font-family="'Liberation Serif','Noto Serif CJK SC',serif">Φ1610</text><text x="124.90" y="959.15" font-size="14" font-weight="normal" stroke="#1c1c1c" stroke-width="0.3" fill="#1c1c1c" text-anchor="middle" letter-spacing="1.0" font-family="'Liberation Serif','Noto Serif CJK SC',serif">Φ1660</text><text x="172.20" y="959.15" font-size="14" font-weight="normal" stroke="#1c1c1c" stroke-width="0.3" fill="#1c1c1c" text-anchor="middle" letter-spacing="1.0" font-family="'Liberation Serif','Noto Serif CJK SC',serif">Φ1710</text><text x="219.15" y="960.85" font-size="14" font-weight="normal" stroke="#1c1c1c" stroke-width="0.3" fill="#1c1c1c" text-anchor="middle" letter-spacing="1.1" font-family="'Liberation Serif','Noto Serif CJK SC',serif">1250</text><text x="272.55" y="960.85" font-size="14" font-weight="normal" stroke="#1c1c1c" stroke-width="0.3" fill="#1c1c1c" text-anchor="middle" letter-spacing="1.1" font-family="'Liberation Serif','Noto Serif CJK SC',serif">1190</text><text x="325.35" y="960.85" font-size="14" font-weight="normal" stroke="#1c1c1c" stroke-width="0.3" fill="#1c1c1c" text-anchor="middle" letter-spacing="1.1" font-family="'Liberation Serif','Noto Serif CJK SC',serif">1130</text><text x="534.00" y="959.25" font-size="14" font-weight="normal" stroke="#1c1c1c" stroke-width="0.3" fill="#1c1c1c" text-anchor="middle" letter-spacing="1.1" font-family="'Liberation Serif','Noto Serif CJK SC',serif">1400</text><text x="582.40" y="958.75" font-size="14" font-weight="normal" stroke="#1c1c1c" stroke-width="0.3" fill="#1c1c1c" text-anchor="middle" letter-spacing="1.1" font-family="'Liberation Serif','Noto Serif CJK SC',serif">1300</text><text x="637.25" y="959.95" font-size="13" font-weight="normal" stroke="#1c1c1c" stroke-width="0.3" fill="#1c1c1c" text-anchor="middle" letter-spacing="0.3" font-family="'Liberation Serif','Noto Serif CJK SC',serif">24-Φ12.5</text><text x="699.50" y="959.95" font-size="14" font-weight="normal" stroke="#1c1c1c" stroke-width="0.3" fill="#1c1c1c" text-anchor="middle" letter-spacing="1.0" font-family="'Liberation Serif','Noto Serif CJK SC',serif">Φ14.5</text><text x="752.15" y="959.95" font-size="14" font-weight="normal" stroke="#1c1c1c" stroke-width="0.3" fill="#1c1c1c" text-anchor="middle" letter-spacing="1.1" font-family="'Liberation Serif','Noto Serif CJK SC',serif">915</text></g>
</svg>
<div class="note">注：为了同用户的安装尺寸保持一致，法兰打孔尺寸(n-Φa)仅供参考,若用户没有说明,本厂一般不打孔。</div>
</div>
</body></html>
